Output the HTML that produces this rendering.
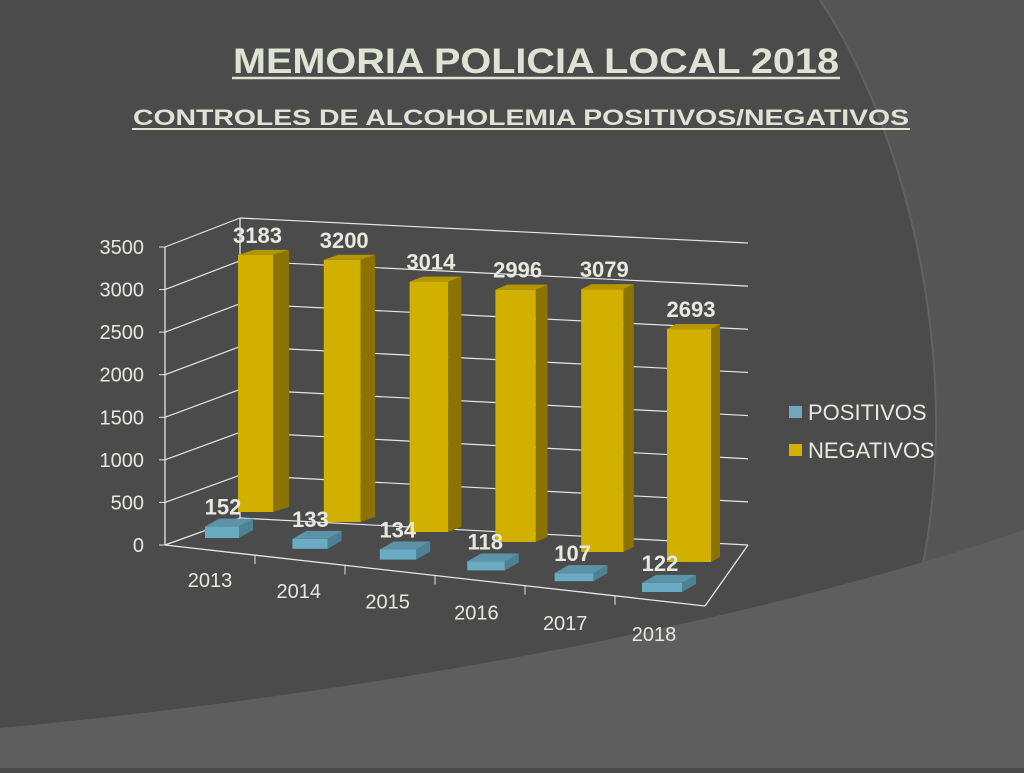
<!DOCTYPE html>
<html><head><meta charset="utf-8"><style>
body{margin:0;width:1024px;height:768px;overflow:hidden;background:#4a4a4a;font-family:"Liberation Sans",sans-serif}
</style></head><body>
<svg width="1024" height="768" viewBox="0 0 1024 768" font-family="Liberation Sans, sans-serif">
<rect width="1024" height="768" fill="#4b4b4b"/>
<path d="M820,0 C900,120 955,330 930,520 C915,640 870,720 835,768 L1024,768 L1024,0 Z" fill="#555"/>
<path d="M820,0 C900,120 955,330 930,520 C915,640 870,720 835,768" fill="none" stroke="#626262" stroke-width="2"/>
<path d="M0,768 L0,728 C300,700 700,640 1024,530 L1024,768 Z" fill="#5e5e5e"/>
<text x="233" y="73" textLength="606" lengthAdjust="spacingAndGlyphs" font-size="35" font-weight="bold" fill="#dfe3d3">MEMORIA POLICIA LOCAL 2018</text>
<line x1="232" y1="78" x2="840" y2="78" stroke="#dfe3d3" stroke-width="2.5"/>
<text x="133" y="125" textLength="776" lengthAdjust="spacingAndGlyphs" font-size="22" font-weight="bold" fill="#dfe3d3">CONTROLES DE ALCOHOLEMIA POSITIVOS/NEGATIVOS</text>
<line x1="132" y1="129" x2="910" y2="129" stroke="#dfe3d3" stroke-width="2"/>
<g id="chart"></g>
<g>
<rect x="789" y="406" width="13" height="12" fill="#6fa8bf"/>
<text x="808" y="420" font-size="22" fill="#e8e8e0">POSITIVOS</text>
<rect x="789" y="444" width="13" height="12" fill="#d4b000"/>
<text x="808" y="458" font-size="22" fill="#e8e8e0">NEGATIVOS</text>
</g>
</svg>
<script>
const categories=["2013","2014","2015","2016","2017","2018"];
const positivos=[152,133,134,118,107,122];
const negativos=[3183,3200,3014,2996,3079,2693];
const yTicks=[0,500,1000,1500,2000,2500,3000,3500];
const yMax=3500;
const NS="http://www.w3.org/2000/svg";
const g=document.getElementById('chart');
function el(t,a,p){const e=document.createElementNS(NS,t);for(const k in a)e.setAttribute(k,a[k]);(p||g).appendChild(e);return e;}
function backL(v){return [240,518-v/yMax*300];}
function backR(v){return [748,545-v/yMax*302];}
function frontL(v){return [165,545-v/yMax*298];}
const gridColor="#e6e6e6";
yTicks.forEach(v=>{
  const a=backL(v),b=backR(v),f=frontL(v);
  const l1=el('line',{x1:a[0],y1:a[1],x2:b[0],y2:b[1],stroke:gridColor,'stroke-width':1.2});
  
  
  const l2=el('line',{x1:f[0],y1:f[1],x2:a[0],y2:a[1],stroke:gridColor,'stroke-width':1.2});
  
  
  const tk=el('line',{x1:f[0]-6,y1:f[1],x2:f[0],y2:f[1],stroke:gridColor});
  
  
  const t=el('text',{x:f[0]-21,y:f[1]+7,'text-anchor':'end','font-size':20,fill:'#e8e8e0'});
  t.textContent=v;
  
  
});
const a0=frontL(0),a1=frontL(yMax),b0=backL(0),b1=backL(yMax),r0=backR(0);
[[a0,a1],[b0,b1],[a0,[705,606]],[[705,606],r0]].forEach(p=>{
  const l=el('line',{x1:p[0][0],y1:p[0][1],x2:p[1][0],y2:p[1][1],stroke:gridColor,'stroke-width':1.3});
  
  
});
const n=categories.length;
function lerp(a,b,t){return a+(b-a)*t;}
categories.forEach((c,i)=>{
  const t=i/(n-1);
  const fx=lerp(165,705,(i+1)/n), fy=lerp(545,606,(i+1)/n);
  if(i<n-1){const tk=el('line',{x1:fx,y1:fy,x2:fx,y2:fy+9,stroke:gridColor});
  
  }
  const lx=lerp(210,654,t), ly=lerp(587,641,t);
  const xl=el('text',{x:lx,y:ly,'text-anchor':'middle','font-size':20,fill:'#e8e8e0'});
  xl.textContent=c;
  
  
});
categories.forEach((c,i)=>{
  const t=i/(n-1);
  const x=lerp(238,667,t), w=lerp(35,44,t), bottom=lerp(512,562,t), sc=lerp(0.0808,0.0865,t);
  const h=negativos[i]*sc, top=bottom-h, dx=lerp(16,9,t), dy=-5;
  const bg=el('g',{});
  
  
  el('polygon',{points:`${x+w},${top} ${x+w+dx},${top+dy} ${x+w+dx},${bottom+dy} ${x+w},${bottom}`,fill:'#8a7300'},bg);
  el('rect',{x:x,y:top,width:w,height:h,fill:'#d2b000'},bg);
  el('polygon',{points:`${x},${top} ${x+dx},${top+dy} ${x+w+dx},${top+dy} ${x+w},${top}`,fill:'#b39600'},bg);
  const lb=el('text',{x:x+w/2+2,y:top-12,'text-anchor':'middle','font-size':22,'font-weight':'bold',fill:'#e8e8e0'});
  lb.textContent=negativos[i];
  
  
  const px=lerp(205,642,t), pw=lerp(34,40,t), pb=lerp(538,592,t), psc=0.075;
  const ph=positivos[i]*psc, pt=pb-ph, pdx=14, pdy=-8;
  const pg=el('g',{});
  
  
  el('polygon',{points:`${px+pw},${pt} ${px+pw+pdx},${pt+pdy} ${px+pw+pdx},${pb+pdy} ${px+pw},${pb}`,fill:'#4d8296'},pg);
  el('rect',{x:px,y:pt,width:pw,height:ph,fill:'#6aaac2'},pg);
  el('polygon',{points:`${px},${pt} ${px+pdx},${pt+pdy} ${px+pw+pdx},${pt+pdy} ${px+pw},${pt}`,fill:'#5c93a8'},pg);
  const pl=el('text',{x:px+18,y:pt-12,'text-anchor':'middle','font-size':22,'font-weight':'bold',fill:'#e8e8e0'});
  pl.textContent=positivos[i];
  
  
});
</script>
</body></html>
